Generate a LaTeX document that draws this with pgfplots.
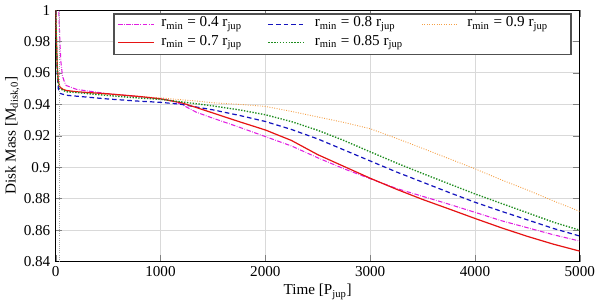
\documentclass[border=0pt]{standalone}
\usepackage{fontspec}
\setmainfont{Liberation Serif}
\usepackage{pgfplots}
\pgfplotsset{compat=1.18}
\definecolor{cmag}{RGB}{225,30,225}
\definecolor{cred}{RGB}{230,20,20}
\definecolor{cblue}{RGB}{20,20,190}
\definecolor{cgreen}{RGB}{30,140,30}
\definecolor{corange}{RGB}{245,160,70}
\definecolor{cframe}{RGB}{80,80,80}
\begin{document}
\begin{tikzpicture}
\begin{axis}[
  scale only axis, width=346pt, height=166pt,
  xmin=0, xmax=5000, ymin=0.84, ymax=1,
  xtick={0,1000,2000,3000,4000,5000},
  ytick={0.84,0.86,0.88,0.9,0.92,0.94,0.96,0.98,1},
  scaled x ticks=false,
  /pgf/number format/assume math mode=true,
  xticklabel style={/pgf/number format/set thousands separator={}},
  yticklabel style={/pgf/number format/fixed, /pgf/number format/precision=2},
  grid=major, grid style={gray!30, line width=0.6pt},
  axis line style={line width=0.7pt},
  xlabel={Time [P\textsubscript{jup}]},
  ylabel={Disk Mass [M\textsubscript{disk,0}]},
  xlabel style={yshift=2pt},
  ylabel style={yshift=-4pt},
  clip=true,
]
\addplot[color=cmag, densely dashdotted, line width=0.7pt] coordinates {
(10,1.03)(30,1.0)(40,0.98)(50,0.967)(65,0.958)(85,0.954)(100,0.952)(200,0.9495)(500,0.9467)(800,0.9448)(1000,0.9435)(1100,0.9425)(1200,0.9400)(1341,0.935)(1500,0.9312)(1750,0.9255)(2000,0.9195)(2250,0.9135)(2500,0.906)(2750,0.899)(3000,0.8927)(3250,0.8865)(3500,0.8815)(3750,0.8765)(4000,0.8713)(4250,0.866)(4500,0.8615)(4750,0.857)(5000,0.853)};
\addplot[color=cblue, densely dashed, line width=0.8pt] coordinates {
(0,1.0)(8,0.975)(15,0.96)(25,0.95)(40,0.947)(100,0.9458)(200,0.9452)(500,0.9434)(800,0.942)(1000,0.9413)(1200,0.940)(1341,0.9383)(1500,0.9365)(1750,0.933)(2000,0.9291)(2250,0.924)(2500,0.918)(2750,0.911)(3000,0.904)(3250,0.897)(3500,0.8905)(3750,0.884)(4000,0.8777)(4250,0.872)(4500,0.8665)(4750,0.861)(5000,0.8562)};
\addplot[color=corange, densely dotted, line width=0.6pt] coordinates {
(0,1.0)(8,0.978)(15,0.962)(25,0.954)(40,0.951)(100,0.949)(200,0.948)(500,0.9462)(800,0.945)(1000,0.9441)(1341,0.9421)(1500,0.941)(1750,0.940)(2000,0.9387)(2250,0.9355)(2500,0.932)(2750,0.9285)(3000,0.9245)(3250,0.9184)(3500,0.912)(3750,0.9055)(4000,0.899)(4250,0.892)(4500,0.8855)(4750,0.8785)(5000,0.8719)};
\addplot[color=cred, solid, line width=0.8pt] coordinates {
(0,1.0)(8,0.98)(15,0.965)(25,0.955)(40,0.951)(70,0.9495)(100,0.9488)(200,0.948)(500,0.9467)(800,0.945)(1000,0.9435)(1200,0.941)(1341,0.938)(1500,0.9345)(1750,0.929)(2000,0.9237)(2250,0.917)(2500,0.908)(2750,0.9005)(3000,0.893)(3250,0.886)(3500,0.8795)(3750,0.8735)(4000,0.8674)(4250,0.8615)(4500,0.856)(4750,0.851)(5000,0.8466)};
\addplot[color=cgreen, densely dotted, line width=0.9pt] coordinates {
(0,1.0)(8,0.978)(15,0.962)(25,0.953)(40,0.950)(100,0.948)(200,0.9475)(500,0.9456)(800,0.944)(1000,0.9432)(1341,0.9404)(1500,0.939)(1750,0.9365)(2000,0.9334)(2250,0.929)(2500,0.9235)(2750,0.917)(3000,0.9098)(3250,0.9027)(3500,0.896)(3750,0.8895)(4000,0.883)(4250,0.877)(4500,0.871)(4750,0.865)(5000,0.8599)};
\addplot[gray!70, densely dotted, line width=0.4pt, forget plot] coordinates {(30,0.84)(30,1)};
% legend
\filldraw[fill=white, draw=cframe, line width=0.9pt] (rel axis cs:0.111,0.823) rectangle (rel axis cs:0.983,0.984);
\draw[cmag, densely dashdotted, line width=0.7pt] (rel axis cs:0.119,0.944) -- (rel axis cs:0.188,0.944);
\node[anchor=west, inner sep=0pt] at (rel axis cs:0.201,0.944) {r\textsubscript{min} = 0.4 r\textsubscript{jup}};
\draw[cred, line width=0.8pt] (rel axis cs:0.119,0.871) -- (rel axis cs:0.188,0.871);
\node[anchor=west, inner sep=0pt] at (rel axis cs:0.201,0.871) {r\textsubscript{min} = 0.7 r\textsubscript{jup}};
\draw[cblue, densely dashed, line width=0.8pt] (rel axis cs:0.406,0.944) -- (rel axis cs:0.475,0.944);
\node[anchor=west, inner sep=0pt] at (rel axis cs:0.494,0.944) {r\textsubscript{min} = 0.8 r\textsubscript{jup}};
\draw[cgreen, densely dotted, line width=0.9pt] (rel axis cs:0.406,0.871) -- (rel axis cs:0.475,0.871);
\node[anchor=west, inner sep=0pt] at (rel axis cs:0.494,0.871) {r\textsubscript{min} = 0.85 r\textsubscript{jup}};
\draw[corange, densely dotted, line width=0.6pt] (rel axis cs:0.699,0.944) -- (rel axis cs:0.768,0.944);
\node[anchor=west, inner sep=0pt] at (rel axis cs:0.785,0.944) {r\textsubscript{min} = 0.9 r\textsubscript{jup}};
\end{axis}
\end{tikzpicture}
\end{document}
